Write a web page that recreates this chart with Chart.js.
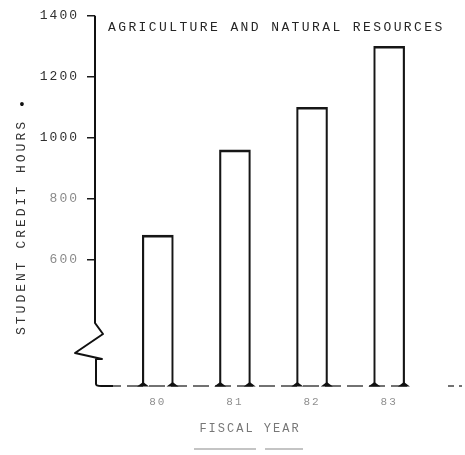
<!DOCTYPE html>
<html><head><meta charset="utf-8">
<script src="https://cdn.jsdelivr.net/npm/chart.js@4"></script>
<style>html,body{margin:0;padding:0;background:#fff}#wrap{width:465px;height:455px}</style>
</head><body><div id="wrap"><canvas id="c" width="465" height="455"></canvas></div>
<script>
const years = [80, 81, 82, 83];
const yearLabels = ['80', '81', '82', '83'];
const creditHours = [680, 960, 1100, 1300];
const yTicks = [600, 800, 1000, 1200, 1400];
const yMin = 185;
const yMax = 1400;
const chartTitle = 'AGRICULTURE AND NATURAL RESOURCES';
const yTitle = 'STUDENT CREDIT HOURS';
const yMark = '•';
const xTitle = 'FISCAL YEAR';

const MONO = '"Liberation Mono", "DejaVu Sans Mono", monospace';

const decor = {
  id: 'decor',
  beforeDraw(chart) {
    chart.ctx.letterSpacing = '2px';
  },
  afterDraw(chart) {
    const ctx = chart.ctx;
    const a = chart.chartArea;
    ctx.save();
    // broken baseline
    ctx.strokeStyle = '#444';
    ctx.lineWidth = 1.5;
    ctx.setLineDash([16, 6]);
    ctx.beginPath();
    ctx.moveTo(a.left + 10, a.bottom);
    ctx.lineTo(a.right - 50, a.bottom);
    ctx.stroke();
    ctx.setLineDash([6, 5]);
    ctx.beginPath();
    ctx.moveTo(a.right - 14, a.bottom);
    ctx.lineTo(a.right, a.bottom);
    ctx.stroke();
    ctx.setLineDash([]);

    // y axis with break zigzag
    ctx.strokeStyle = '#111';
    ctx.lineWidth = 2;
    ctx.lineJoin = 'round';
    ctx.beginPath();
    ctx.moveTo(a.left, a.top);
    ctx.lineTo(a.left, a.bottom - 63);
    ctx.lineTo(a.left + 8, a.bottom - 52);
    ctx.lineTo(a.left - 20, a.bottom - 33);
    ctx.lineTo(a.left + 7, a.bottom - 27);
    ctx.lineTo(a.left + 1, a.bottom - 27);
    ctx.lineTo(a.left + 1, a.bottom - 2);
    ctx.quadraticCurveTo(a.left + 1, a.bottom, a.left + 6, a.bottom);
    ctx.lineTo(a.left + 18, a.bottom);
    ctx.stroke();

    // feet at bar bases
    const meta = chart.getDatasetMeta(0);
    ctx.fillStyle = '#111';
    meta.data.forEach(bar => {
      const half = bar.width / 2;
      [bar.x - half + 0.75, bar.x + half - 0.75].forEach(px => {
        ctx.beginPath();
        ctx.moveTo(px - 6, bar.base + 0.5);
        ctx.lineTo(px, bar.base - 4);
        ctx.lineTo(px + 6, bar.base + 0.5);
        ctx.closePath();
        ctx.fill();
      });
    });

    // chart title
    ctx.letterSpacing = '2.4px';
    ctx.font = '13px ' + MONO;
    ctx.fillStyle = '#262626';
    ctx.textAlign = 'left';
    ctx.textBaseline = 'middle';
    ctx.fillText(chartTitle, a.left + 13, a.top + 12);

    // y title
    ctx.save();
    ctx.translate(22, 227);
    ctx.rotate(-Math.PI / 2);
    ctx.letterSpacing = '3px';
    ctx.font = '13px ' + MONO;
    ctx.fillStyle = '#333';
    ctx.textAlign = 'center';
    ctx.fillText(yTitle, 0, 0);
    ctx.restore();
    ctx.letterSpacing = '0px';
    ctx.font = '14px ' + MONO;
    ctx.fillStyle = '#111';
    ctx.textAlign = 'center';
    ctx.fillText(yMark, 22, 105);

    // x title with underline
    ctx.letterSpacing = '2px';
    ctx.font = '12px ' + MONO;
    ctx.fillStyle = '#777';
    ctx.textAlign = 'center';
    ctx.fillText(xTitle, 250, 429);
    ctx.strokeStyle = '#8a8a8a';
    ctx.lineWidth = 1.2;
    ctx.beginPath();
    ctx.moveTo(194, 449); ctx.lineTo(256, 449);
    ctx.moveTo(265, 449); ctx.lineTo(303, 449);
    ctx.stroke();
    ctx.restore();
  }
};

new Chart(document.getElementById('c'), {
  type: 'bar',
  data: {
    datasets: [{
      data: years.map((x, i) => ({ x: x, y: creditHours[i] })),
      base: yMin,
      backgroundColor: 'rgba(255,255,255,0)',
      borderColor: '#161616',
      borderWidth: { top: 2, left: 1.5, right: 1.5, bottom: 0 },
      borderSkipped: 'bottom',
      barThickness: 31
    }]
  },
  options: {
    responsive: false,
    animation: false,
    layout: { padding: { top: 15, right: 3, left: 0, bottom: 0 } },
    plugins: { legend: { display: false }, tooltip: { enabled: false }, title: { display: false } },
    scales: {
      x: {
        type: 'linear',
        min: 79.185,
        max: 83.945,
        offset: false,
        afterBuildTicks: s => { s.ticks = years.map(v => ({ value: v })); },
        afterFit: s => { s.height = 69; },
        grid: { display: false },
        border: { display: false },
        ticks: {
          callback: v => { const i = years.indexOf(v); return i >= 0 ? yearLabels[i] : ''; },
          color: '#8f8f8f',
          font: { family: MONO, size: 11 },
          padding: 1,
          maxRotation: 0
        }
      },
      y: {
        min: yMin,
        max: yMax,
        beginAtZero: false,
        afterBuildTicks: s => { s.ticks = yTicks.map(v => ({ value: v })); },
        afterFit: s => { s.width = 95; },
        grid: { display: true, drawOnChartArea: false, drawTicks: true, tickLength: 8, color: '#1a1a1a', lineWidth: 1.5 },
        border: { display: false },
        ticks: {
          callback: v => String(v),
          color: c => (c.tick && c.tick.value <= 800 ? '#8a8a8a' : '#303030'),
          font: { family: MONO, size: 13 },
          padding: 8
        }
      }
    }
  },
  plugins: [decor]
});
</script>
</body></html>
